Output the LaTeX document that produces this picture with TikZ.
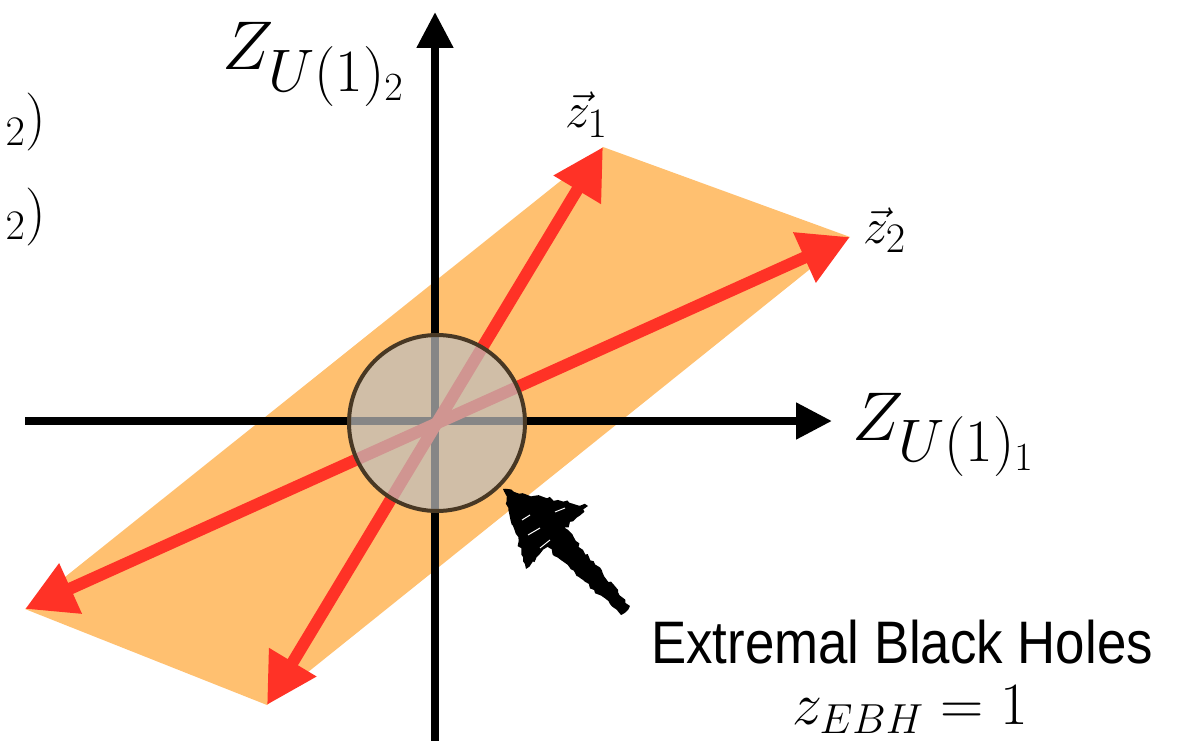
\RequirePackage{fix-cm}
\documentclass[tikz,border=0pt]{standalone}
\usepackage{fontspec}
\setsansfont{Liberation Sans}
\usetikzlibrary{arrows.meta,decorations.pathmorphing}
\DeclareMathSizes{69}{69}{60}{40}
\DeclareMathSizes{50}{50}{42}{30}
\DeclareMathSizes{60}{60}{42}{30}
\DeclareMathSizes{58}{58}{42}{29}
\definecolor{orng}{RGB}{255,192,112}
\definecolor{redv}{RGB}{255,50,38}
\definecolor{ebhfill}{RGB}{190,190,190}
\definecolor{ebhedge}{RGB}{72,56,36}
\begin{document}
\begin{tikzpicture}[x=1pt,y=-1pt,
  axis/.style={line width=8pt,-{Triangle[length=36pt,width=35pt]}},
  vecarrow/.style={line width=12pt,redv,{Triangle[length=50pt,width=52pt]}-{Triangle[length=50pt,width=52pt]}},
  lbl/.style={inner sep=0pt,outer sep=0pt},
  sketch/.style={decorate,decoration={random steps,segment length=4pt,amplitude=1.8pt}}]
\pgfmathsetseed{3}
\clip (0,0) rectangle (1192,741);
\coordinate (O) at (435,421);
\coordinate (z1) at (603,147);
\coordinate (z2) at (850,237);
\coordinate (mz1) at (267,705);
\coordinate (mz2) at (25,609);
\coordinate (xs) at (25,421);
\coordinate (xe) at (832,421);
\coordinate (ys) at (435,745);
\coordinate (ye) at (435,12);
\fill[orng] (z2) -- (z1) -- (mz2) -- (mz1) -- cycle;
\draw[axis] (xs) -- (xe);
\draw[axis] (ys) -- (ye);
\draw[vecarrow] (mz1) -- (z1);
\draw[vecarrow] (mz2) -- (z2);
\node[circle,minimum size=176pt,inner sep=0pt,fill=ebhfill,fill opacity=0.71,draw=ebhedge,draw opacity=1,line width=4pt] (ebh) at (437,423) {};
% sketchy arrow
\coordinate (tip) at (503,489);
\fill[black,sketch] (tip) -- (588,506) -- (526,569) -- cycle;
\fill[black,sketch] (546,546) -- (565,528) -- (630,606) -- (621,615) -- cycle;
\draw[white,line width=1pt] (522,520) -- (530,515) (528,535) -- (540,528) (540,548) -- (550,540) (555,512) -- (565,508);
% labels
\node[lbl,anchor=base west,font=\fontsize{69}{80}\selectfont] (zu2) at (222,70) {$Z_{U(1)_2}$};
\node[lbl,anchor=base west,font=\fontsize{69}{80}\selectfont] (zu1) at (852,440) {$Z_{U(1)_1}$};
\node[lbl,anchor=base west,font=\fontsize{50}{56}\selectfont] (l1) at (565,128) {$\vec z_1$};
\node[lbl,anchor=base west,font=\fontsize{50}{56}\selectfont] (l2) at (863,243) {$\vec z_2$};
\node[lbl,anchor=base east,font=\fontsize{58}{66}\selectfont] (f1) at (46,137) {${}_2)$};
\node[lbl,anchor=base east,font=\fontsize{58}{66}\selectfont] (f2) at (46,231) {${}_2)$};
\node[lbl,anchor=base,font=\sffamily\fontsize{60}{70}\selectfont] (ebhtext) at (902,663) {\scalebox{0.88}[1]{Extremal Black Holes}};
\node[lbl,anchor=base,font=\fontsize{60}{66}\selectfont] (zebh) at (910,724) {$z_{EBH}=1$};
\end{tikzpicture}
\end{document}
